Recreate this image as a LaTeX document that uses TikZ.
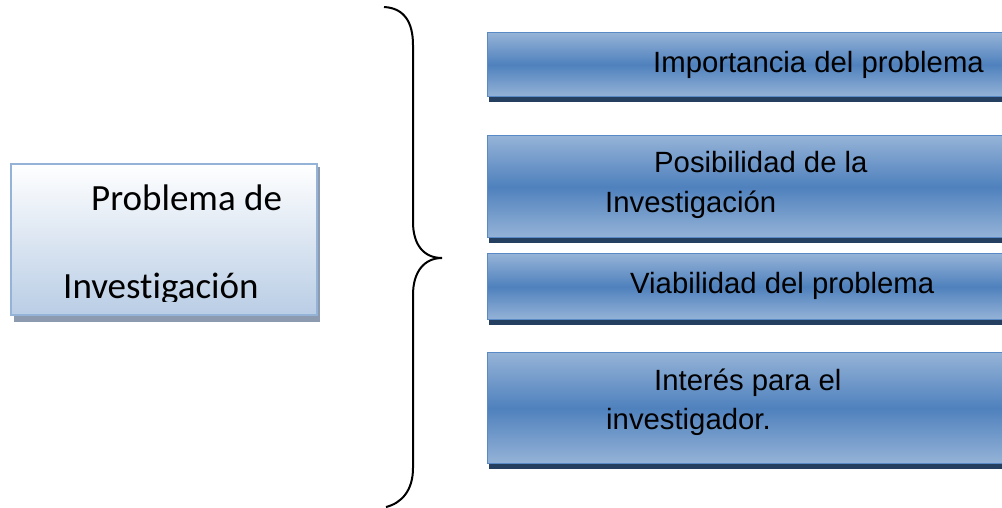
\documentclass[tikz,border=0pt]{standalone}
\usepackage{fontspec}
\setmainfont{Liberation Sans}
\newfontfamily\calibrilike[Ligatures={NoCommon,NoRare}]{Carlito}
\definecolor{pale}{HTML}{95B3D7}
\definecolor{mid}{HTML}{4F81BD}
\definecolor{edge}{HTML}{5A8AC6}
\definecolor{deep}{HTML}{243F60}
\definecolor{leftbot}{HTML}{B9CDE5}
\definecolor{leftedge}{HTML}{95B3D7}
\definecolor{leftshadow}{HTML}{8C9BB0}
\tikzset{
  x=1pt, y=-1pt,
  itembox/.style={draw=edge, line width=1.4pt, top color=pale, bottom color=pale, middle color=mid, inner sep=0pt, rectangle},
  itemshadow/.style={fill=deep, draw=none},
  itemtext/.style={font=\fontsize{29.3}{35}\selectfont, anchor=base west, inner sep=0pt, text=black},
  maintext/.style={font=\calibrilike\fontsize{37}{44}\selectfont, anchor=base west, inner sep=0pt, text=black},
  bracestroke/.style={draw=black, line width=2pt},
}
\begin{document}
\begin{tikzpicture}
\useasboundingbox (0,0) rectangle (1002,507);
\clip (0,0) rectangle (1002,507);

% left box: soft shadow, then white-to-blue panel
\fill[leftshadow] (14,167) rectangle (320,322);
\node[draw=leftedge, line width=1.6pt, top color=white, bottom color=leftbot, inner sep=0pt,
      minimum width=306pt, minimum height=151pt, anchor=north west] (prob) at (10,163) {};
\begin{scope}
  \clip (10,163) rectangle (317,301);
  \node[maintext] (probA) at (91,210) {Problema de};
  \node[maintext] (probB) at (63,298) {Investigación};
\end{scope}

% curly brace
\draw[bracestroke] (384,7) .. controls (404,8) and (413,22) .. (413,45)
  -- (413,222) .. controls (413,245) and (424,258) .. (442,258)
  .. controls (424,258) and (413,272) .. (413,295)
  -- (413,468) .. controls (413,490) and (402,503) .. (386,507);

% right boxes: dark base shadow, then blue band
\foreach \t/\b/\n in {32/96/b1, 135/237/b2, 253/319/b3, 352/463/b4}{
  \fill[itemshadow] (489,\b) rectangle (1010,\b+6);
  \node[itembox, minimum width=530pt, minimum height=\b-\t pt, anchor=north west] (\n) at (487,\t) {};
}

\node[itemtext] (t1) at (653,72) {Importancia del problema};
\node[itemtext] (t2a) at (654,172) {Posibilidad de la};
\node[itemtext] (t2b) at (605,212) {Investigación};
\node[itemtext] (t3) at (630,293) {Viabilidad del problema};
\node[itemtext] (t4a) at (654,390) {Interés para el};
\node[itemtext] (t4b) at (606,429) {investigador.};
\end{tikzpicture}
\end{document}
